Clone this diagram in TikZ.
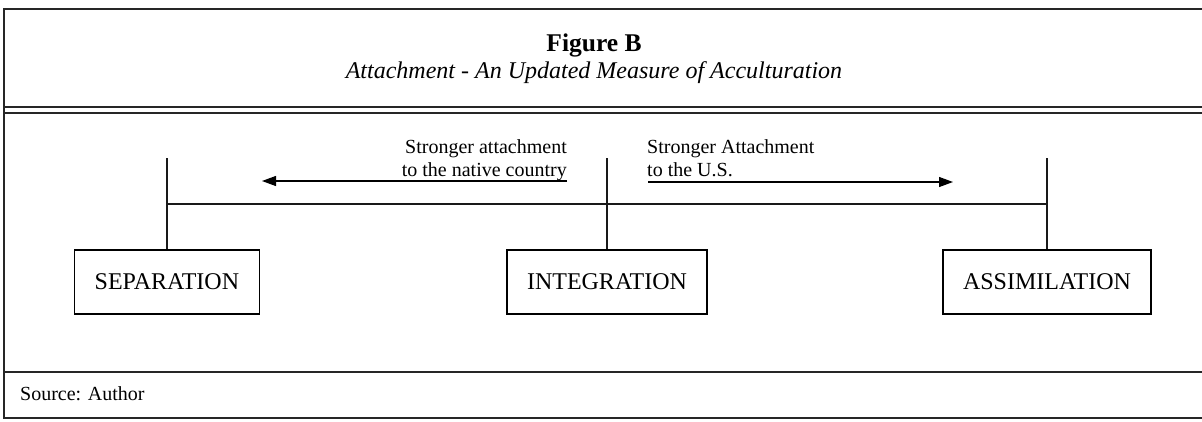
\documentclass[tikz,border=0pt]{standalone}
\usepackage{fontspec}
\setmainfont{Liberation Serif}
\usetikzlibrary{arrows.meta}
\begin{document}
\begin{tikzpicture}[x=1pt,y=-1pt,
  frameline/.style={line width=1.4pt, draw=black!85},
  link/.style={line width=1.2pt, draw=black!90},
  stagebox/.style={draw, line width=1.2pt, inner xsep=20pt, inner ysep=0pt, minimum height=64pt, font=\fontsize{24}{28}\selectfont},
  lbl/.style={font=\fontsize{20}{24}\selectfont, inner sep=0pt},
  dirarrow/.style={line width=1.2pt, -{Triangle[length=14pt,width=10pt]}}]
\useasboundingbox (0,0) rectangle (1202,421);
% frame
\draw[frameline] (1202,9) -- (4,9) -- (4,418) -- (1202,418);
\draw[frameline] (4,107) -- (1202,107);
\draw[frameline] (4,113) -- (1202,113);
\draw[frameline] (4,372) -- (1202,372);
% title
\node[font=\bfseries\fontsize{25.5}{30}\selectfont, anchor=base, inner sep=0pt] (title) at (594,51) {Figure B};
\node[font=\itshape\fontsize{24}{28}\selectfont, anchor=base, inner sep=0pt] (subtitle) at (594,78.5) {Attachment - An Updated Measure of Acculturation};
% boxes
\node[stagebox] (sep) at (166.9,282) {SEPARATION};
\node[stagebox] (int) at (607,282) {INTEGRATION};
\node[stagebox] (ass) at (1047,282) {ASSIMILATION};
% tree lines
\coordinate (septop) at (166.9,158);
\coordinate (inttop) at (607,158);
\coordinate (asstop) at (1047,158);
\coordinate (sepmid) at (166.9,204);
\coordinate (assmid) at (1047,204);
\draw[link] (septop) -- (sep.north);
\draw[link] (inttop) -- (int.north);
\draw[link] (asstop) -- (ass.north);
\draw[link] (sepmid) -- (assmid);
% arrows
\coordinate (la0) at (567,181);
\coordinate (la1) at (262,181);
\coordinate (ra0) at (648,182);
\coordinate (ra1) at (953,182);
\draw[dirarrow] (la0) -- (la1);
\draw[dirarrow] (ra0) -- (ra1);
% labels
\node[lbl, anchor=base east] (l1) at (567,153) {Stronger attachment};
\node[lbl, anchor=base east] (l2) at (567,176) {to the native country};
\node[lbl, anchor=base west] (r1) at (647,153) {Stronger Attachment};
\node[lbl, anchor=base west] (r2) at (647,176) {to the U.S.};
% source
\node[lbl, anchor=base west] (src) at (20,400) {Source: Author};
\end{tikzpicture}
\end{document}
